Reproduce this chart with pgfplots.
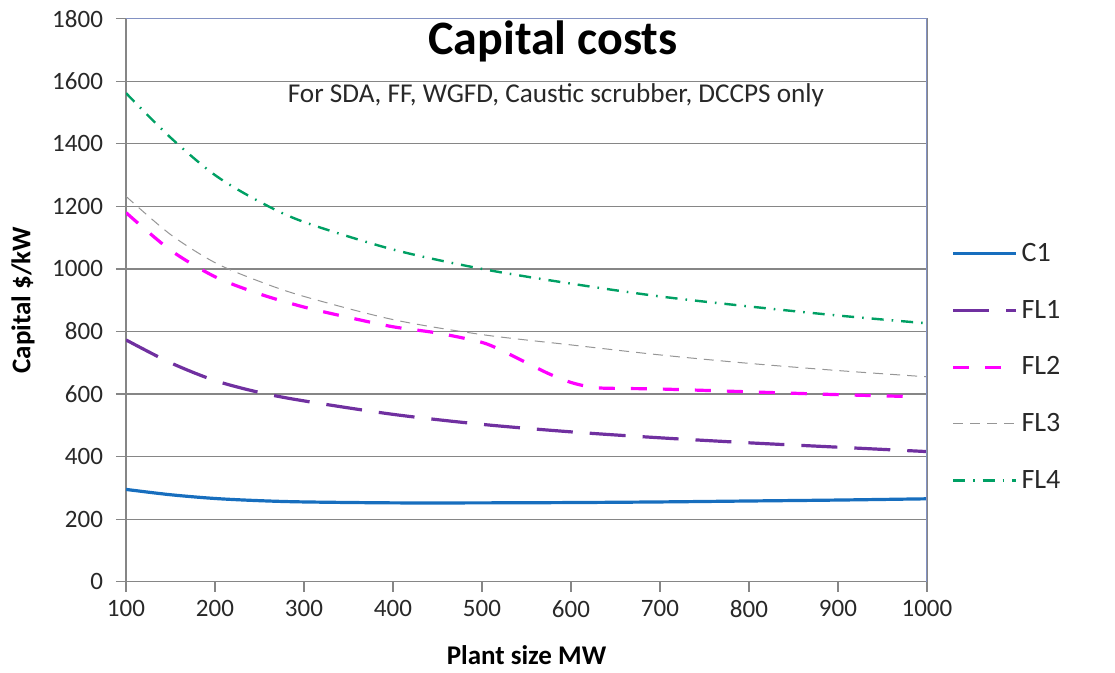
\documentclass[border=0pt]{standalone}
\usepackage{fontspec}
\setmainfont{Carlito}
\usepackage{pgfplots}
\pgfplotsset{compat=1.18}
\definecolor{cBlue}{RGB}{23,110,190}
\definecolor{cPurple}{RGB}{112,48,160}
\definecolor{cMag}{RGB}{255,0,255}
\definecolor{cGray}{RGB}{150,150,150}
\definecolor{cGreen}{RGB}{0,160,100}
\definecolor{axGray}{RGB}{134,134,134}
\definecolor{axBlue}{RGB}{130,145,195}
\definecolor{txt}{RGB}{40,40,40}
\begin{document}
\begin{tikzpicture}
\path (0,0) rectangle (557.5pt,336.5pt);
\begin{axis}[
  at={(63pt,45.65pt)}, anchor=south west,
  scale only axis, width=400.5pt, height=281.5pt,
  xmin=100, xmax=1000, ymin=0, ymax=1800,
  xtick={100,200,...,1000}, ytick={0,200,...,1800},
  ymajorgrids, grid style={axGray, line width=0.6pt},
  axis line style={axGray, line width=0.6pt},
  tick style={axGray, line width=0.6pt},
  tick align=outside, major tick length=5pt,
  xtick pos=bottom, ytick pos=left,
  /pgf/number format/assume math mode=true,
  /pgf/number format/1000 sep={},
  tick label style={font=\fontsize{12.5}{14}\selectfont, text=txt},
  xticklabel style={yshift=-1pt},
  yticklabel style={xshift=-3pt},
  xlabel={\textbf{Plant size MW}},
  ylabel={\textbf{Capital \$/kW}},
  label style={font=\fontsize{13.5}{15}\selectfont},
  xlabel style={yshift=-7pt},
  ylabel style={yshift=2pt},
  legend style={draw=none, fill=none, at={(1.03,0.381)}, anchor=west,
    font=\fontsize{14}{16}\selectfont, row sep=13.8pt, inner sep=0pt, text=txt},
  legend cell align=left,
  legend image code/.code={\draw[#1] (0pt,0pt) -- (31.5pt,0pt);},
]
\addplot[cBlue, line width=1.6pt, smooth] coordinates {
(100,295) (150,278) (200,266) (250,259) (300,255) (400,252) (500,252) (600,253) (700,255) (800,258) (900,261) (1000,265)};
\addlegendentry{C1}
\addplot[cPurple, line width=1.6pt, smooth, dash pattern=on 18pt off 8.5pt] coordinates {
(100,773) (150,700) (200,643) (250,605) (300,578) (400,535) (500,503) (600,479) (700,460) (800,444) (900,430) (1000,416)};
\addlegendentry{FL1}
\addplot[cMag, line width=1.6pt, smooth, dash pattern=on 8pt off 8pt] coordinates {
(100,1180) (150,1060) (200,975) (250,920) (300,878) (350,845) (400,815) (450,795) (500,765) (525,735) (550,700) (575,665) (600,637) (625,621) (650,618) (700,616) (800,607) (900,598) (980,592)};
\addlegendentry{FL2}
\addplot[cGray, line width=0.5pt, smooth, dash pattern=on 5pt off 3.5pt] coordinates {
(100,1232) (150,1110) (200,1020) (250,960) (300,912) (400,838) (500,790) (600,757) (700,725) (800,698) (900,675) (1000,655)};
\addlegendentry{FL3}
\addplot[cGreen, line width=1.2pt, smooth, dash pattern=on 6pt off 4pt on 0.8pt off 4pt] coordinates {
(100,1562) (150,1420) (200,1300) (250,1215) (300,1150) (400,1062) (500,1000) (600,953) (700,912) (800,880) (900,851) (1000,826)};
\addlegendentry{FL4}
\draw[axBlue, line width=0.6pt] (rel axis cs:0,1) -- (rel axis cs:1,1) -- (rel axis cs:1,0);
\node[font=\fontsize{24}{28}\selectfont\bfseries] at (rel axis cs:0.533,0.959) {Capital costs};
\node[font=\fontsize{13.6}{16}\selectfont, text=txt] at (rel axis cs:0.5368,0.864) {For SDA, FF, WGFD, Caustic scrubber, DCCPS only};
\end{axis}
\end{tikzpicture}
\end{document}
